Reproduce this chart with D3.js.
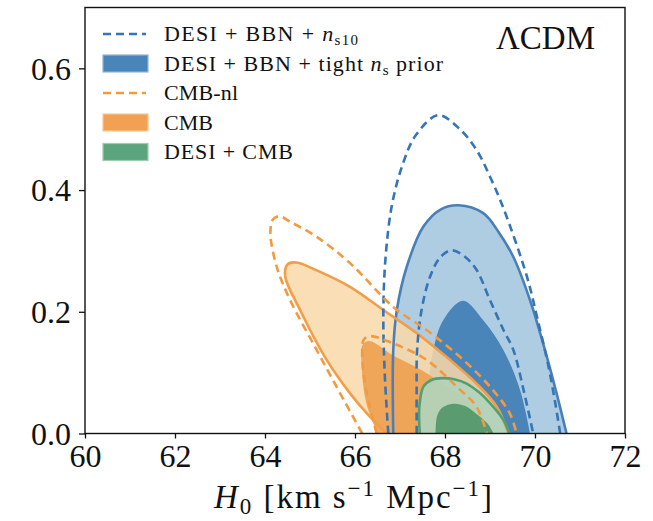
<!DOCTYPE html>
<html>
<head>
<meta charset="utf-8">
<script src="https://cdn.jsdelivr.net/npm/d3@7"></script>
<style>
  body { margin: 0; background: #fff; }
  svg text { font-family: "Liberation Serif", "DejaVu Serif", serif; fill: #111; }
</style>
</head>
<body>
<div id="chart"></div>
<script>
// Contour data, [H0, y] pairs (bottom-left -> top -> bottom-right)
var xTicks = [60, 62, 64, 66, 68, 70, 72];
var yTicks = [0.0, 0.2, 0.4, 0.6];

var ns10Outer = [[66.74,0],[66.66,0.1],[66.63,0.2],[66.68,0.29],[66.82,0.375],[67.05,0.44],[67.35,0.49],[67.85,0.523],[68.33,0.5],[68.7,0.466],[69.0,0.422],[69.3,0.37],[69.82,0.258],[70.05,0.19],[70.3,0.11],[70.45,0.05],[70.56,0]];
var ns10Inner = [[67.37,0],[67.37,0.07],[67.38,0.137],[67.48,0.203],[67.67,0.258],[67.9,0.29],[68.15,0.301],[68.45,0.29],[68.7,0.269],[69.0,0.219],[69.3,0.17],[69.52,0.137],[69.75,0.07],[69.96,0]];
var tightOuter = [[66.85,0],[66.85,0.137],[66.93,0.203],[67.15,0.274],[67.52,0.34],[67.9,0.368],[68.3,0.375],[68.85,0.362],[69.2,0.33],[69.52,0.29],[69.89,0.219],[70.18,0.148],[70.48,0.066],[70.7,0]];
var tightInner = [[67.59,0],[67.63,0.077],[67.74,0.137],[67.96,0.186],[68.4,0.218],[68.85,0.186],[69.3,0.137],[69.67,0.071],[69.89,0]];
var cmbOuter = [[66.7,0],[66.3,0.03],[65.89,0.066],[65.37,0.121],[64.78,0.203],[64.45,0.258],[64.5,0.278],[64.7,0.281],[65.15,0.268],[65.89,0.241],[66.63,0.203],[67.37,0.165],[68.11,0.121],[68.7,0.082],[69.15,0.044],[69.41,0]];
var cmbInner = [[66.5,0],[66.25,0.05],[66.15,0.11],[66.17,0.146],[66.32,0.152],[66.85,0.128],[67.5,0.103],[68.26,0.066],[68.78,0.033],[69.0,0]];
var cmbNlOuter = [[66.16,0],[65.67,0.066],[65.15,0.137],[64.56,0.219],[64.26,0.274],[64.12,0.33],[64.18,0.352],[64.32,0.357],[64.56,0.348],[65.15,0.323],[65.89,0.28],[66.85,0.208],[67.59,0.17],[68.33,0.126],[69.0,0.077],[69.44,0.033],[69.59,0]];
var cmbNlInner = [[66.48,0],[66.22,0.082],[66.16,0.135],[66.2,0.155],[66.35,0.16],[66.85,0.148],[67.59,0.121],[68.26,0.077],[68.7,0.044],[68.93,0]];
var desiCmbOuter = [[67.44,0],[67.43,0.044],[67.52,0.077],[67.7,0.088],[67.95,0.091],[68.2,0.089],[68.48,0.082],[68.75,0.068],[69.0,0.05],[69.3,0.022],[69.43,0]];
var desiCmbInner = [[67.79,0],[67.83,0.03],[67.95,0.043],[68.2,0.049],[68.45,0.045],[68.7,0.032],[68.95,0.016],[69.08,0]];

var legendLabels = ["DESI + BBN + ", "DESI + BBN + tight ", "CMB-nl", "CMB", "DESI + CMB"];
var legendWidths = [194, 279, 74, 49, 129];

const margin = { top: 7.5, right: 28, bottom: 87.5, left: 85 },
    width = 653 - margin.left - margin.right,
    height = 521 - margin.top - margin.bottom;

const svg = d3.select("#chart")
    .append("svg")
    .attr("width", 653)
    .attr("height", 521);

const g = svg.append("g")
    .attr("transform", `translate(${margin.left},${margin.top})`);

const x = d3.scaleLinear().domain([60, 72]).range([0, width]);
const y = d3.scaleLinear().domain([0, 0.7]).range([height, 0]);

g.append("clipPath").attr("id", "clip")
    .append("rect").attr("width", width).attr("height", height);

const plot = g.append("g").attr("clip-path", "url(#clip)");

const line = d3.line()
    .x(d => x(d[0]))
    .y(d => y(d[1]))
    .curve(d3.curveCatmullRom.alpha(0.5));

function fill(data, color, opacity) {
    plot.append("path")
        .attr("d", line(data) + "Z")
        .attr("fill", color)
        .attr("fill-opacity", opacity)
        .attr("stroke", "none");
}

function edge(data, color, dashed) {
    plot.append("path")
        .attr("d", line(data))
        .attr("fill", "none")
        .attr("stroke", color)
        .attr("stroke-width", 2.6)
        .attr("stroke-dasharray", dashed ? "8,5" : null);
}

// filled contours
fill(tightOuter, "#aecde2", 1);
fill(tightInner, "#4a85ba", 1);
fill(cmbOuter, "#f9d8a8", 0.85);
fill(cmbInner, "#eea04f", 0.9);
fill(desiCmbOuter, "#b0d4bc", 0.9);
fill(desiCmbInner, "#5a9c70", 1);

// contour lines
edge(tightOuter, "#4a80b9", false);
edge(cmbOuter, "#f29d47", false);
edge(desiCmbOuter, "#52a070", false);
edge(ns10Outer, "#3575b5", true);
edge(ns10Inner, "#3575b5", true);
edge(cmbNlOuter, "#f39a3e", true);
edge(cmbNlInner, "#f39a3e", true);

// axes
g.append("rect")
    .attr("width", width).attr("height", height)
    .attr("fill", "none").attr("stroke", "#111").attr("stroke-width", 1.4);

const xAxis = g.append("g")
    .attr("transform", `translate(0,${height})`)
    .call(d3.axisBottom(x).tickValues(xTicks).tickSize(5).tickPadding(4).tickFormat(d3.format("d")));
xAxis.select(".domain").remove();
xAxis.selectAll("line").attr("stroke", "#111").attr("stroke-width", 1.3);
xAxis.selectAll("text").attr("font-size", 32).attr("font-family", "Liberation Serif").attr("dy", "0.75em");

const yAxis = g.append("g")
    .call(d3.axisLeft(y).tickValues(yTicks).tickSize(6).tickPadding(8).tickFormat(d3.format(".1f")));
yAxis.select(".domain").remove();
yAxis.selectAll("line").attr("stroke", "#111").attr("stroke-width", 1.3);
yAxis.selectAll("text").attr("font-size", 32).attr("font-family", "Liberation Serif").attr("dy", "0.34em");

// x label
const xl = svg.append("text")
    .attr("x", 353)
    .attr("y", 508)
    .attr("text-anchor", "middle")
    .attr("font-size", 33)
    .attr("textLength", 278)
    .attr("lengthAdjust", "spacing");
xl.append("tspan").attr("font-style", "italic").text("H");
xl.append("tspan").attr("font-size", 23).attr("dy", 6).text("0");
xl.append("tspan").attr("dy", -6).text(" [km s");
xl.append("tspan").attr("font-size", 23).attr("dy", -12).text("−1");
xl.append("tspan").attr("dy", 12).text(" Mpc");
xl.append("tspan").attr("font-size", 23).attr("dy", -12).text("−1");
xl.append("tspan").attr("dy", 12).text("]");

// model label
svg.append("text")
    .attr("x", 595).attr("y", 49)
    .attr("text-anchor", "end")
    .attr("font-size", 33)
    .text("ΛCDM");

// legend
const rows = [34, 63.5, 93, 122.5, 152];
const leg = svg.append("g");

function legDash(cy, color) {
    leg.append("line").attr("x1", 103).attr("x2", 146).attr("y1", cy).attr("y2", cy)
        .attr("stroke", color).attr("stroke-width", 2.6).attr("stroke-dasharray", "8,5");
}
function legPatch(cy, color, edgeColor) {
    leg.append("rect").attr("x", 103).attr("y", cy - 8.5).attr("width", 45).attr("height", 17)
        .attr("fill", color).attr("stroke", edgeColor).attr("stroke-width", 1.2);
}
legDash(rows[0], "#3575b5");
legPatch(rows[1], "#4a85ba", "#8fb4d6");
legDash(rows[2], "#f39a3e");
legPatch(rows[3], "#f2a153", "#f8c795");
legPatch(rows[4], "#5ba47c", "#9fcbb1");

legendLabels.forEach((lab, i) => {
    const t = leg.append("text").attr("x", 164).attr("y", rows[i] + 7).attr("font-size", 22)
        .attr("textLength", legendWidths[i]).attr("lengthAdjust", "spacing")
        .text(lab);
    if (i === 0) {
        t.append("tspan").attr("font-style", "italic").text("n");
        t.append("tspan").attr("font-size", 15).attr("dy", 4).text("s10");
    }
    if (i === 1) {
        t.append("tspan").attr("font-style", "italic").text("n");
        t.append("tspan").attr("font-size", 15).attr("dy", 4).text("s");
        t.append("tspan").attr("dy", -4).text(" prior");
    }
});
</script>
</body>
</html>
